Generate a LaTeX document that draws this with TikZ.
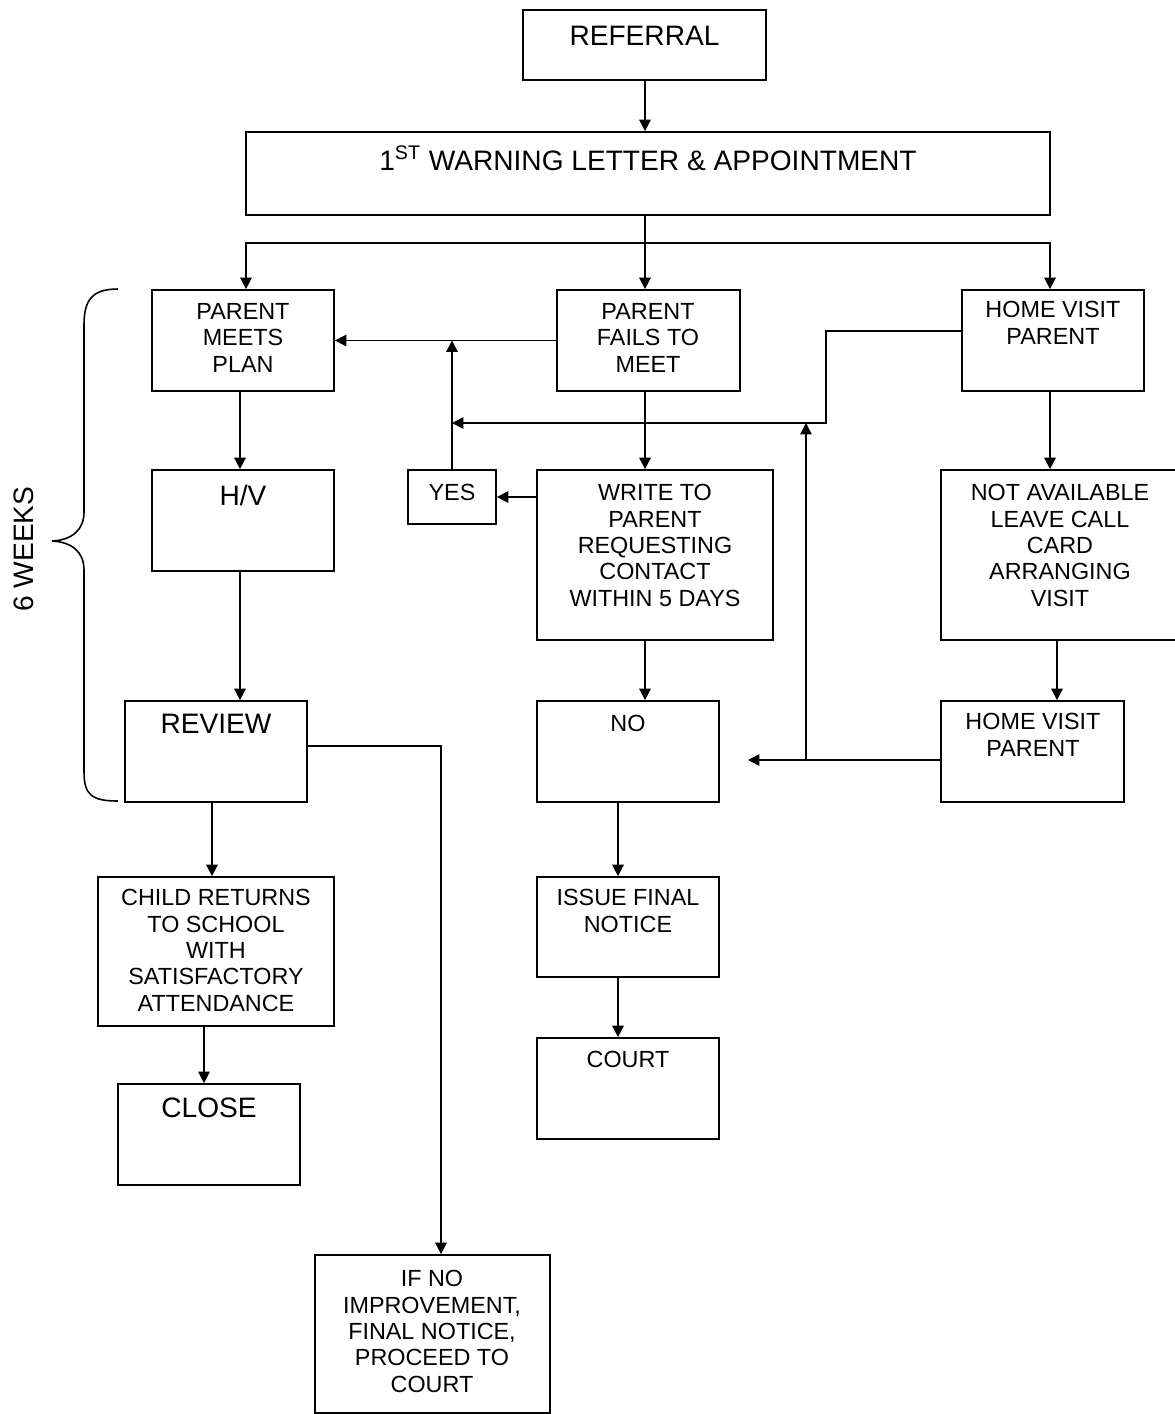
\documentclass[tikz,border=0pt]{standalone}
\usepackage{fontspec}
\setmainfont{Liberation Sans}
\usetikzlibrary{arrows.meta,fit}
\begin{document}
\begin{tikzpicture}[x=0.02cm,y=-0.02cm,
 box/.style={draw, line width=1pt, inner sep=0pt},
 txt/.style={font=\fontsize{13.3}{15}\selectfont, align=center, inner sep=0pt, anchor=north},
 bigtxt/.style={font=\fontsize{16}{18}\selectfont, align=center, inner sep=0pt, anchor=north},
 arr/.style={line width=0.9pt, -{Triangle[length=6.5pt,width=6.5pt]}},
 ln/.style={line width=0.9pt}]
\useasboundingbox (0,0) rectangle (1175,1414);
% boxes
\node[box, fit={(523,10) (766,80)}] (ref) {};
\node[box, fit={(246,132) (1050,215)}] (warn) {};
\node[box, fit={(152,290) (334,391)}] (meets) {};
\node[box, fit={(557,290) (740,391)}] (fails) {};
\node[box, fit={(962,290) (1144,391)}] (hv1) {};
\node[box, fit={(152,470) (334,571)}] (hv) {};
\node[box, fit={(408,470) (496,524)}] (yes) {};
\node[box, fit={(537,470) (773,640)}] (write) {};
\node[box, fit={(941,470) (1180,640)}] (na) {};
\node[box, fit={(125,701) (307,802)}] (review) {};
\node[box, fit={(537,701) (719,802)}] (no) {};
\node[box, fit={(941,701) (1124,802)}] (hv2) {};
\node[box, fit={(98,877) (334,1026)}] (child) {};
\node[box, fit={(537,877) (719,977)}] (issue) {};
\node[box, fit={(118,1084) (300,1185)}] (close) {};
\node[box, fit={(537,1038) (719,1139)}] (court) {};
\node[box, fit={(315,1255) (550,1413)}] (ifno) {};
% texts
\node[bigtxt] (t-ref) at (644.5,26) {REFERRAL};
\node[bigtxt] (t-warn) at (648,145) {1\textsuperscript{ST} WARNING LETTER \& APPOINTMENT};
\node[txt] (t-meets) at (243,303) {PARENT\\MEETS\\PLAN};
\node[txt] (t-fails) at (648,303) {PARENT\\FAILS TO\\MEET};
\node[txt] (t-hv1) at (1053,301) {HOME VISIT\\PARENT};
\node[bigtxt] (t-hv) at (243,485) {H/V};
\node[txt] (t-yes) at (452,484) {YES};
\node[txt] (t-write) at (655,484) {WRITE TO\\PARENT\\REQUESTING\\CONTACT\\WITHIN 5 DAYS};
\node[txt] (t-na) at (1060,484) {NOT AVAILABLE\\LEAVE CALL\\CARD\\ARRANGING\\VISIT};
\node[bigtxt] (t-review) at (216,714) {REVIEW};
\node[txt] (t-no) at (628,715) {NO};
\node[txt] (t-hv2) at (1033,713) {HOME VISIT\\PARENT};
\node[txt] (t-child) at (216,889) {CHILD RETURNS\\TO SCHOOL\\WITH\\SATISFACTORY\\ATTENDANCE};
\node[txt] (t-issue) at (628,889) {ISSUE FINAL\\NOTICE};
\node[bigtxt] (t-close) at (209,1098) {CLOSE};
\node[txt] (t-court) at (628,1051) {COURT};
\node[txt] (t-ifno) at (432,1270) {IF NO\\IMPROVEMENT,\\FINAL NOTICE,\\PROCEED TO\\COURT};
\node[bigtxt, rotate=90, anchor=center] (t-weeks) at (24,549) {6 WEEKS};
% helper coordinates
\coordinate (bus) at (0,243);
\coordinate (hvx) at (0,331);
\coordinate (j1) at (826,423);
\coordinate (j2) at (806,760);
\coordinate (noin) at (748,760);
\coordinate (rv) at (441,746);
\coordinate (c246) at (246,0);
\coordinate (c645) at (645,0);
\coordinate (c618) at (618,0);
\coordinate (c1050) at (1050,0);
\coordinate (c1057) at (1057,0);
\coordinate (c240) at (240,0);
\coordinate (c212) at (212,0);
\coordinate (c204) at (204,0);
% connectors
\draw[arr] (ref.south -| c645) -- (warn.north -| c645);
\draw[arr] (warn.south -| c645) -- (fails.north -| c645);
\draw[arr] (bus -| c645) -| (meets.north -| c246);
\draw[arr] (bus -| c645) -| (hv1.north -| c1050);
\draw[arr] (fails.west) -- (meets.east);
\draw[arr] (yes.north) -- (yes.north |- meets.east);
\draw[arr] (hv1.west |- hvx) -| (j1) -- (j1 -| yes.north);
\draw[arr] (hv2.west |- j2) -- (noin);
\draw[arr] (j2) -- (j2 |- j1);
\draw[arr] (fails.south -| c645) -- (write.north -| c645);
\draw[arr] (write.west |- yes.east) -- (yes.east);
\draw[arr] (write.south -| c645) -- (no.north -| c645);
\draw[arr] (no.south -| c618) -- (issue.north -| c618);
\draw[arr] (issue.south -| c618) -- (court.north -| c618);
\draw[arr] (hv1.south -| c1050) -- (na.north -| c1050);
\draw[arr] (na.south -| c1057) -- (hv2.north -| c1057);
\draw[arr] (meets.south -| c240) -- (hv.north -| c240);
\draw[arr] (hv.south -| c240) -- (review.north -| c240);
\draw[arr] (review.east |- rv) -- (rv) -- (rv |- ifno.north);
\draw[arr] (review.south -| c212) -- (child.north -| c212);
\draw[arr] (child.south -| c204) -- (close.north -| c204);
% brace
\draw[ln] (118,289) .. controls (92,289) and (84,300) .. (84,325) -- (84,512) .. controls (84,530) and (72,540) .. (52,541) .. controls (72,542) and (84,552) .. (84,570) -- (84,772) .. controls (84,795) and (92,801) .. (118,801);
\end{tikzpicture}
\end{document}
